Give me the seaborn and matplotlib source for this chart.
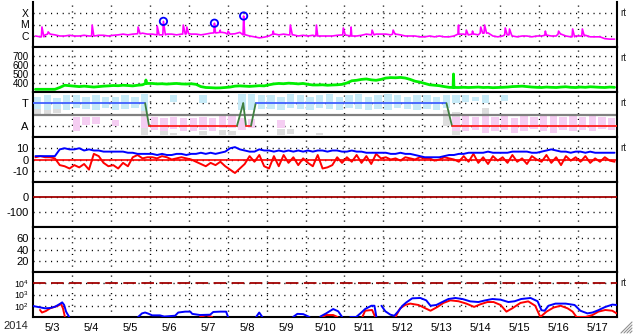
import numpy as np
import pandas as pd
import matplotlib
matplotlib.use("Agg")
import matplotlib.pyplot as plt
import seaborn as sns
from matplotlib.lines import Line2D
from matplotlib.ticker import NullLocator, FixedLocator

# ---------------- data ----------------
day_labels = ["5/3", "5/4", "5/5", "5/6", "5/7", "5/8", "5/9", "5/10",
              "5/11", "5/12", "5/13", "5/14", "5/15", "5/16", "5/17"]
year_label = "2014"

# X-ray flux baseline, 3-hourly, in units of 1e-6 W/m2
xray_base = [
    0.95, 0.8, 1.2, 1.4, 1.2, 0.95, 0.95, 1.1,
    0.95, 0.95, 1.1, 0.95, 0.95, 1.1, 1.1, 0.95,
    1.1, 1.2, 1.4, 1.2, 1.4, 1.5, 1.7, 1.4,
    1.4, 1.2, 1.2, 1.4, 1.4, 1.2, 1.4, 1.5,
    1.4, 1.4, 1.2, 1.4, 1.7, 1.8, 2.0, 1.8,
    1.4, 1.5, 2.0, 1.2, 0.95, 0.8, 0.65, 0.75,
    0.95, 1.4, 1.2, 1.4, 1.2, 1.2, 0.95, 1.1,
    0.95, 1.1, 0.95, 0.95, 0.95, 0.95, 1.1, 1.2,
    1.1, 0.95, 0.95, 1.1, 1.4, 1.2, 1.4, 1.4,
    1.4, 1.2, 1.4, 1.2, 0.95, 0.95, 0.95, 0.8,
    0.8, 0.95, 0.8, 0.95, 0.8, 0.8, 0.95, 1.4,
    1.4, 1.2, 1.4, 1.2, 1.7, 1.8, 0.95, 0.8,
    0.95, 1.2, 0.95, 0.8, 0.95, 0.95, 0.8, 0.95,
    0.95, 1.1, 0.95, 0.95, 1.4, 0.95, 0.8, 0.95,
    0.95, 1.1, 0.8, 0.8, 0.8, 0.55, 0.5, 0.5]
xray_peak_t = [0.23, 0.39, 1.52, 2.70, 3.19, 3.35, 3.86, 3.95, 4.66, 4.81,
               5.01, 5.41, 6.17, 6.61, 7.28, 7.97, 8.17, 8.71, 9.25, 10.93,
               11.13, 11.29, 11.50, 11.60, 12.13, 12.24, 13.16, 13.50, 13.86, 14.11]
xray_peak_val = [6.0, 2.2, 9.0, 6.0, 7.4, 19, 9.0, 6.0, 13, 3.2,
                 2.6, 57, 2.6, 9.0, 9.0, 4.9, 6.0, 3.2, 3.2, 9.0,
                 3.2, 2.6, 6.0, 9.0, 4.9, 4.0, 2.6, 2.6, 4.0, 4.0]
flare_t = [3.35, 4.66, 5.41]
flare_val = [19, 13, 57]

# Solar wind speed, 3-hourly, km/s
speed = [
    330, 330, 330, 330, 330, 350, 375, 370,
    365, 360, 365, 360, 355, 360, 365, 368,
    372, 370, 375, 372, 368, 375, 380, 395,
    395, 390, 392, 388, 392, 395, 390, 388,
    392, 385, 360, 350, 348, 345, 346, 350,
    355, 365, 368, 365, 362, 366, 370, 368,
    380, 390, 395, 392, 398, 395, 390, 395,
    385, 378, 378, 380, 375, 378, 380, 385,
    400, 425, 430, 440, 445, 435, 430, 440,
    455, 460, 458, 462, 455, 440, 420, 410,
    395, 380, 375, 370, 360, 352, 350, 350,
    352, 350, 352, 355, 350, 352, 348, 350,
    352, 355, 360, 362, 365, 360, 355, 352,
    350, 355, 352, 350, 355, 358, 352, 350,
    355, 352, 358, 355, 352, 350, 355, 352]
speed_peak_t = [2.90, 10.80]
speed_peak_val = [433, 500]

# IMF sector (T=3, A=1), transitions
sector_t = [0.0, 2.88, 2.98, 5.24, 5.40, 5.47, 5.60, 5.72, 10.62, 10.76, 15.0]
sector_lvl = [3, 3, 1, 1, 3, 1, 1, 3, 3, 1, 1]

nan = np.nan
# 6-hourly spreads of the IMF angle points (panel units 0..4)
blue_lo = [2.5, 2.4, 2.5, 2.4, 2.6, 2.5, 2.4, 2.6, 2.4, 2.5, 2.6, 2.3,
           nan, nan, 3.1, nan, nan, 3.0, nan, nan, nan, 2.4, 2.4, 2.5,
           2.5, 2.4, 2.6, 2.5, 2.4, 2.6, 2.5, 2.4, 2.6, 2.5, 2.4, 2.5,
           2.4, 2.6, 2.5, 2.4, 2.5, 2.4, 2.6, 3.0, 3.1, 3.2, 3.0, nan,
           3.2, nan, nan, nan, nan, nan, nan, nan, nan, nan, nan, nan]
blue_hi = [3.6, 3.7, 3.5, 3.7, 3.7, 3.6, 3.7, 3.6, 3.6, 3.7, 3.6, 3.8,
           nan, nan, 3.7, nan, nan, 3.7, nan, nan, nan, 3.8, 3.8, 3.7,
           3.7, 3.6, 3.8, 3.7, 3.6, 3.7, 3.8, 3.6, 3.7, 3.8, 3.6, 3.7,
           3.8, 3.7, 3.6, 3.7, 3.7, 3.6, 3.7, 3.7, 3.7, 3.6, 3.7, nan,
           3.7, nan, nan, nan, nan, nan, nan, nan, nan, nan, nan, nan]
pink_lo = [nan, nan, nan, nan, 0.5, 1.1, 1.2, nan, 1.0, nan, nan, 0.8,
           0.6, 0.5, 0.7, 0.5, 0.5, 0.6, 0.5, 0.8, 0.8, 0.6, 0.8, nan,
           nan, 0.8, nan, nan, nan, nan, nan, nan, nan, nan, nan, nan,
           nan, nan, nan, nan, nan, nan, nan, 0.5, 0.5, 0.6, 0.4, 0.5,
           0.6, 0.4, 0.5, 0.7, 0.5, 0.4, 0.6, 0.5, 0.6, 0.5, 0.7, 0.6]
pink_hi = [nan, nan, nan, nan, 1.8, 1.8, 1.8, nan, 1.5, nan, nan, 1.8,
           1.8, 1.7, 1.8, 1.7, 1.7, 1.8, 1.7, 1.9, 1.9, 1.7, 1.6, nan,
           nan, 1.5, nan, nan, nan, nan, nan, nan, nan, nan, nan, nan,
           nan, nan, nan, nan, nan, nan, nan, 1.8, 1.9, 1.8, 2.0, 1.8,
           1.9, 1.7, 1.9, 1.8, 1.9, 2.0, 1.8, 1.9, 1.8, 1.9, 1.8, 1.7]
gray_lo = [2.0, 2.0, 2.1, nan, nan, nan, nan, nan, nan, nan, nan, 0.2,
           nan, 0.2, 0.2, nan, nan, 0.2, nan, 0.2, 0.2, nan, nan, nan,
           nan, 0.2, 0.3, nan, nan, 0.2, nan, nan, nan, nan, nan, nan,
           nan, nan, nan, nan, nan, nan, 1.0, 0.2, nan, nan, 1.6, nan,
           nan, nan, nan, nan, nan, nan, nan, nan, nan, nan, nan, nan]
gray_hi = [2.8, 2.6, 2.7, nan, nan, nan, nan, nan, nan, nan, nan, 2.6,
           nan, 0.5, 0.4, nan, nan, 0.5, nan, 0.6, 0.5, nan, nan, nan,
           nan, 0.7, 0.7, nan, nan, 0.4, nan, nan, nan, nan, nan, nan,
           nan, nan, nan, nan, nan, nan, 2.4, 2.2, nan, nan, 2.6, nan,
           nan, nan, nan, nan, nan, nan, nan, nan, nan, nan, nan, nan]

# IMF Bt and Bz, 3-hourly, nT
bt = [3, 3, 3, 3, 3, 9, 10, 9,
      9, 10, 8, 9, 8, 8, 7, 7,
      7, 7, 7, 6, 6, 5, 5, 5,
      5, 4, 5, 4, 4, 5, 5, 4,
      5, 5, 6, 5, 6, 5, 6, 7,
      10, 11, 9, 8, 7, 7, 9, 8,
      8, 7, 8, 7, 8, 7, 8, 7,
      8, 7, 8, 8, 7, 8, 8, 7,
      7, 8, 7, 7, 6, 6, 6, 6,
      6, 5, 5, 6, 5, 5, 4, 3,
      2, 2, 2, 2, 3, 4, 4, 5,
      5, 6, 6, 6, 6, 7, 6, 6,
      6, 6, 7, 7, 7, 7, 6, 6,
      7, 8, 9, 8, 7, 7, 6, 7,
      7, 6, 7, 6, 6, 6, 6, 6]
bz = [2, 3, 2, 2, 1, -5, -6, -8,
      -5, -7, -4, -9, 5, 3, -3, -6,
      -5, -8, -3, -6, 2, 4, 1, 2,
      2, 1, 3, 2, 0, 1, 2, 1,
      0, -2, -4, -6, -3, -5, -2, -6,
      -9, -12, -8, -4, 3, -2, 4, -6,
      -8, 3, -6, 4, -3, 2, -5, 1,
      -3, -6, 4, -8, -7, -5, 2, -3,
      2, -2, 4, -3, 3, -4, 5, 1,
      2, 0, 1, -1, 2, 1, 0, 2,
      1, 1, -1, 0, 2, 1, 0, -2,
      3, -2, 5, -3, 2, -4, 3, -1,
      2, -3, 4, -2, 1, -4, 3, 0,
      -2, 4, -3, 2, -5, 3, -1, 2,
      -2, 3, -3, 1, -2, 2, -1, -2]

# Electron flux (>2 MeV), two satellites; NaN marks gaps
e_blue_t = [0.0, 0.18, 0.31, 0.44, 0.57, 0.69, 0.75, 0.80, 0.85, 0.90, 0.93, nan,
            2.70, 2.80, 2.88, 2.96, 3.06, 3.26, 3.37, 3.65, 3.73, 3.91, 4.04, 4.09,
            4.29, 4.55, 4.63, 4.81, 4.96, 5.01, nan,
            5.73, 5.81, 5.89, nan,
            6.68, 6.79, 6.94, 7.10, nan,
            7.38, 7.53, 7.71, 7.84, 7.94, nan,
            8.15, 8.30, 8.41, 8.53, 8.69, 8.77, 8.82, nan,
            8.95, 9.05, 9.18, 9.28, 9.38, 9.49, 9.59, 9.74, 9.95, 10.10, 10.21,
            10.36, 10.51, 10.67, 10.85, 11.03, 11.23, 11.44, 11.62, 11.80, 12.01,
            12.21, 12.37, 12.54, 12.78, 12.96, 13.06, 13.14, 13.24, 13.42, 13.68,
            13.91, 14.06, 14.24, 14.37, 14.52, 14.70, 14.88, 14.99]
e_blue = [95, 72, 59, 63, 83, 145, 200, 117, 30, 15, 10, nan,
          10, 21, 25, 20, 14, 14, 11, 13, 25, 30, 30, 19,
          15, 16, 28, 30, 30, 10, nan,
          10, 25, 10, nan,
          10, 19, 18, 10, nan,
          11, 21, 51, 32, 10, nan,
          10, 10, 21, 51, 100, 100, 10, nan,
          100, 32, 16, 13, 32, 100, 200, 457, 490, 302, 100,
          117, 214, 398, 490, 398, 245, 214, 302, 398, 347,
          214, 251, 398, 490, 251, 40, 36, 100, 155, 155,
          117, 36, 21, 25, 40, 79, 126, 117]
e_red_t = [0.18, 0.23, 0.33, 0.44, 0.57, 0.64, 0.72, 0.77, 0.82, nan,
           4.29, 4.45, 4.60, nan,
           7.43, 7.53, 7.71, 7.82, nan,
           8.46, 8.53, 8.71, 8.79, nan,
           9.31, 9.43, 9.56, 9.69, 9.90, 10.08, 10.21, 10.39, 10.54, 10.72, 10.93,
           11.13, 11.33, 11.49, 11.67, 11.83, 12.01, 12.16, 12.31, 12.52, 12.72,
           12.90, 13.03, 13.19, 13.37, 13.55, 13.73, 13.86, 13.96, 14.19, 14.37,
           14.52, 14.70, 14.88, 14.99]
e_red = [42, 25, 34, 59, 83, 100, 145, 59, 10, nan,
         10, 15, 10, nan,
         10, 15, 15, 10, nan,
         10, 36, 42, 10, nan,
         10, 59, 117, 155, 117, 59, 36, 79, 178, 302, 251,
         155, 79, 135, 214, 214, 117, 30, 59, 178, 245,
         100, 10, 30, 69, 100, 59, 30, 10, 10, 15,
         30, 42, 36, 21]

# ---------------- figure ----------------
sns.set_theme(style="white")
plt.rcParams["font.family"] = ["Liberation Sans", "DejaVu Sans"]
plt.rcParams["font.size"] = 8
plt.rcParams["mathtext.fontset"] = "custom"
plt.rcParams["mathtext.rm"] = "Liberation Sans"
plt.rcParams["mathtext.it"] = "Liberation Sans"

W, H = 633, 334
fig = plt.figure(figsize=(W / 100, H / 100), dpi=100)
fig.patch.set_facecolor("white")

tops = [2, 47, 92, 137, 182, 227, 272]
axes = []
for top in tops:
    ax = fig.add_axes([33 / W, 1 - (top + 45) / H, 584 / W, 45 / H])
    axes.append(ax)

DOT = (0, (0.8, 3.4))

def style(ax, yticks, ylabels, bottom=False, ysize=8):
    ax.set_xlim(0, 15)
    ax.xaxis.set_major_locator(FixedLocator(np.arange(1, 15)))
    ax.xaxis.set_minor_locator(FixedLocator(np.arange(15) + 0.5))
    ax.set_xticklabels([])
    if bottom:
        ax.set_xticklabels(day_labels, minor=True)
    else:
        ax.set_xticklabels([], minor=True)
    ax.yaxis.set_major_locator(FixedLocator(yticks))
    ax.yaxis.set_minor_locator(NullLocator())
    ax.set_yticklabels(ylabels)
    ax.tick_params(axis="both", which="both", length=0, pad=3,
                   labelsize=8, colors="black")
    ax.tick_params(axis="y", labelsize=ysize)
    ax.tick_params(axis="x", which="minor", pad=4)
    ax.grid(True, which="major", color="black", lw=1.0, linestyle=DOT)
    ax.set_axisbelow(True)
    for s in ax.spines.values():
        s.set_color("black")
        s.set_linewidth(1.5)
    ax.set_xlabel("")
    ax.set_ylabel("")
    ax.set_facecolor("white")

def spiky(base_t, base_v, pk_t, pk_v, step, rise, decay):
    tt = list(base_t)
    vv = list(base_v)
    for t, p in zip(pk_t, pk_v):
        b = base_v[min(int(t / step), len(base_v) - 1)]
        tt += [t - rise, t, t + decay]
        vv += [b, p, b]
    order = np.argsort(tt, kind="stable")
    return np.array(tt)[order], np.array(vv)[order]

t3 = np.arange(120) * 0.125 + 0.0625

# Panel 1: X-ray
ax = axes[0]
xt, xv = spiky(t3, xray_base, xray_peak_t, xray_peak_val, 0.125, 0.015, 0.05)
sns.lineplot(x=xt, y=xv * 1e-6, ax=ax, color="#ff00ff", lw=1.2,
             estimator=None, sort=False, legend=False)
sns.scatterplot(x=flare_t, y=np.array(flare_val) * 1e-6, ax=ax, marker="o",
                s=28, facecolor="none", edgecolor="#0000ff", linewidth=1.3,
                legend=False, zorder=5)
ax.set_yscale("log")
ax.set_ylim(1e-7, 1e-3)
style(ax, [1e-6, 1e-5, 1e-4], ["C", "M", "X"], ysize=7.5)
ax.spines["top"].set_visible(False)

# Panel 2: speed
ax = axes[1]
st, sv = spiky(t3, speed, speed_peak_t, speed_peak_val, 0.125, 0.01, 0.02)
sns.lineplot(x=st, y=sv, ax=ax, color="#00ee00", lw=2.0,
             estimator=None, sort=False, legend=False)
ax.set_ylim(300, 800)
style(ax, [400, 500, 600, 700], ["400", "500", "600", "700"], ysize=7)

# Panel 3: sector
ax = axes[2]
t6 = np.arange(60) * 0.25
for lo, hi, col in [(gray_lo, gray_hi, "#dddddd"),
                    (blue_lo, blue_hi, "#c6eaf7"),
                    (pink_lo, pink_hi, "#f5cdf2")]:
    lo = np.array(lo, float)
    hi = np.array(hi, float)
    m = ~np.isnan(lo)
    ax.bar(t6[m] + 0.02, hi[m] - lo[m], bottom=lo[m], width=0.19, align="edge",
           color=col, lw=0, zorder=1)
ax.axhline(2, color="#808080", lw=1.6, zorder=2)
for i in range(len(sector_t) - 1):
    a, b = sector_lvl[i], sector_lvl[i + 1]
    if a == b == 3:
        c = "#4060ff"
    elif a == b == 1:
        c = "#ff2020"
    else:
        c = "#408040"
    sns.lineplot(x=[sector_t[i], sector_t[i + 1]], y=[a, b], ax=ax, color=c,
                 lw=1.3, estimator=None, sort=False, legend=False, zorder=3)
ax.set_ylim(0, 4)
style(ax, [1, 3], ["A", "T"])

# Panel 4: Bt / Bz
ax = axes[3]
ax.axhline(0, color="#ff0000", lw=1.2, zorder=2)
sns.lineplot(x=t3, y=bz, ax=ax, color="#ff0000", lw=1.4,
             estimator=None, sort=False, legend=False, zorder=3)
sns.lineplot(x=t3, y=bt, ax=ax, color="#0000ff", lw=1.4,
             estimator=None, sort=False, legend=False, zorder=4)
ax.set_ylim(-20, 20)
style(ax, [-10, 0, 10], ["-10", "0", "10"])

# Panel 5: Dst
ax = axes[4]
ax.axhline(0, color="#a00000", lw=1.3, zorder=3)
ax.set_ylim(-200, 100)
style(ax, [-100, 0], ["-100", "0"])

# Panel 6
ax = axes[5]
ax.set_ylim(0, 80)
style(ax, [20, 40, 60], ["20", "40", "60"])

# Panel 7: electrons
ax = axes[6]
ax.set_yscale("log")
ax.axhline(1e4, color="#a00000", lw=1.3, dashes=(7, 3), zorder=3)
for tt, vv, col in [(e_red_t, e_red, "#ff0000"), (e_blue_t, e_blue, "#0000ff")]:
    tt = np.array(tt, float)
    vv = np.array(vv, float)
    seg = np.cumsum(np.isnan(tt))
    df = pd.DataFrame({"t": tt, "v": vv, "seg": seg}).dropna()
    for _, g in df.groupby("seg"):
        sns.lineplot(data=g, x="t", y="v", ax=ax, color=col, lw=1.4,
                     estimator=None, sort=False, legend=False, zorder=4)
ax.set_ylim(10, 1e5)
style(ax, [1e2, 1e3, 1e4], [r"$10^2$", r"$10^3$", r"$10^4$"], bottom=True, ysize=6.3)

fig.text(16 / W, 1 - 326 / H, year_label, ha="center", va="center", fontsize=8)

for top in [2, 47, 92, 137, 272]:
    fig.text(620 / W, 1 - (top + 11) / H, "rt", ha="left", va="center", fontsize=7)

# resize grip
for k in range(4):
    off = 3 * k
    fig.add_artist(Line2D([(621 + off) / W, 632 / W],
                          [1 - 333 / H, 1 - (333 - (11 - off)) / H],
                          transform=fig.transFigure, color="#909090", lw=0.8))

fig.savefig("out.png", dpi=100, facecolor="white")
